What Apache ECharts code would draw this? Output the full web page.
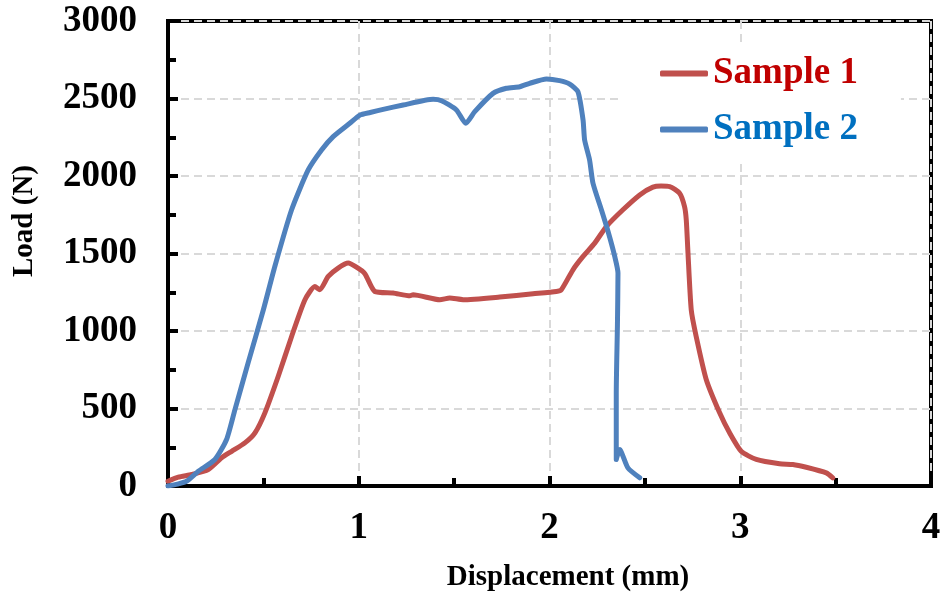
<!DOCTYPE html>
<html>
<head>
<meta charset="utf-8">
<script src="https://cdn.jsdelivr.net/npm/echarts@6/dist/echarts.min.js"></script>
<style>html,body{margin:0;padding:0;background:#fff;}#c{width:945px;height:596px;}</style>
</head>
<body>
<div id="c"></div>
<script>
// ---- data ----
const seriesNames = ['Sample 1', 'Sample 2'];
const xTicks = [0, 1, 2, 3, 4];
const yTicks = [0, 500, 1000, 1500, 2000, 2500, 3000];

const sample1Disp = [0, 0.054, 0.124, 0.211, 0.281, 0.334, 0.403, 0.456, 0.508, 0.578, 0.648, 0.718, 0.77, 0.796, 0.84, 0.892, 0.945, 0.99, 1.032, 1.084, 1.18, 1.268, 1.285, 1.425, 1.477, 1.547, 1.739, 1.914, 2.036, 2.062, 2.123, 2.176, 2.237, 2.298, 2.385, 2.473, 2.542, 2.585, 2.630, 2.682, 2.708, 2.717, 2.726, 2.743, 2.769, 2.822, 2.892, 2.944, 3.005, 3.084, 3.206, 3.276, 3.346, 3.451, 3.485];
const sample1Load = [31, 57, 74, 106, 182, 224, 278, 343, 472, 708, 965, 1202, 1287, 1266, 1352, 1406, 1438, 1410, 1370, 1255, 1245, 1227, 1234, 1202, 1213, 1202, 1219, 1240, 1255, 1266, 1395, 1481, 1567, 1674, 1782, 1878, 1928, 1935, 1932, 1889, 1803, 1717, 1503, 1137, 965, 686, 472, 343, 224, 171, 143, 139, 121, 85, 53];

const sample2Disp = [0, 0.05, 0.098, 0.159, 0.246, 0.307, 0.351, 0.42, 0.5, 0.56, 0.648, 0.735, 0.805, 0.866, 0.953, 1.006, 1.06, 1.128, 1.233, 1.39, 1.434, 1.512, 1.561, 1.608, 1.704, 1.774, 1.844, 1.896, 1.984, 2.053, 2.106, 2.149, 2.176, 2.184, 2.21, 2.228, 2.272, 2.307, 2.342, 2.359, 2.356, 2.350, 2.350, 2.368, 2.411, 2.473];
const sample2Load = [0, 12, 31, 95, 171, 300, 493, 794, 1137, 1416, 1782, 2039, 2168, 2254, 2340, 2393, 2410, 2430, 2458, 2495, 2486, 2426, 2340, 2415, 2533, 2566, 2576, 2598, 2626, 2615, 2593, 2544, 2361, 2233, 2104, 1953, 1782, 1642, 1481, 1374, 1030, 600, 171, 235, 117, 53];

const xTitle = 'Displacement (mm)';
const yTitle = 'Load (N)';

// ---- build ----
const zip = (a, b) => a.map((v, i) => [v, b[i]]);
const FONT = '"Liberation Serif", "Times New Roman", serif';
const lineColors = ['#C0504D', '#4F81BD'];
const textColors = ['#C00000', '#0070C0'];

const chart = echarts.init(document.getElementById('c'), null, {renderer: 'canvas'});
const axisCommon = {
  type: 'value',
  axisLine: {show: true, onZero: false, lineStyle: {color: '#000', width: 4}},
  axisTick: {show: true, inside: true, length: 10, lineStyle: {color: '#000', width: 4}},
  minorTick: {show: true, splitNumber: 2, length: 8, lineStyle: {color: '#000', width: 4}},
  splitLine: {show: true, lineStyle: {color: '#D9D9D9', width: 2, type: [8, 5]}},
  axisLabel: {fontFamily: FONT, fontWeight: 'bold', fontSize: 37, color: '#000', formatter: v => String(v)}
};

chart.setOption({
  animation: false,
  backgroundColor: '#fff',
  grid: {left: 168, right: 14, top: 21, bottom: 110, show: true, borderColor: '#000', borderWidth: 4, containLabel: false},
  xAxis: Object.assign({}, axisCommon, {
    min: xTicks[0], max: xTicks[xTicks.length - 1], interval: 1,
    axisLabel: Object.assign({}, axisCommon.axisLabel, {margin: 24})
  }),
  yAxis: Object.assign({}, axisCommon, {
    min: yTicks[0], max: yTicks[yTicks.length - 1], interval: 500,
    axisLabel: Object.assign({}, axisCommon.axisLabel, {margin: 31})
  }),
  legend: {
    orient: 'vertical', left: 621, top: 45,
    padding: [10, 43, 11, 39], itemGap: 19,
    itemWidth: 48, itemHeight: 6,
    backgroundColor: '#fff',
    data: seriesNames.map((n, i) => ({name: n, icon: 'roundRect', textStyle: {color: textColors[i]}})),
    textStyle: {fontFamily: FONT, fontWeight: 'bold', fontSize: 37}
  },
  graphic: [
    {type: 'text', x: 568, y: 578, style: {text: xTitle, font: 'bold 29px ' + FONT, fill: '#000', align: 'center', verticalAlign: 'middle'}},
    {type: 'text', x: 25, y: 221, rotation: Math.PI / 2, style: {text: yTitle, font: 'bold 29px ' + FONT, fill: '#000', align: 'center', verticalAlign: 'middle'}}
  ],
  series: [
    {name: seriesNames[0], type: 'line', showSymbol: false, symbol: 'none', smooth: 0.2, z: 3,
     lineStyle: {color: lineColors[0], width: 5, cap: 'round', join: 'round'}, itemStyle: {color: lineColors[0]},
     data: zip(sample1Disp, sample1Load)},
    {name: seriesNames[1], type: 'line', showSymbol: false, symbol: 'none', smooth: 0.2, z: 3,
     lineStyle: {color: lineColors[1], width: 5, cap: 'round', join: 'round'}, itemStyle: {color: lineColors[1]},
     data: zip(sample2Disp, sample2Load)}
  ]
});
</script>
</body>
</html>
